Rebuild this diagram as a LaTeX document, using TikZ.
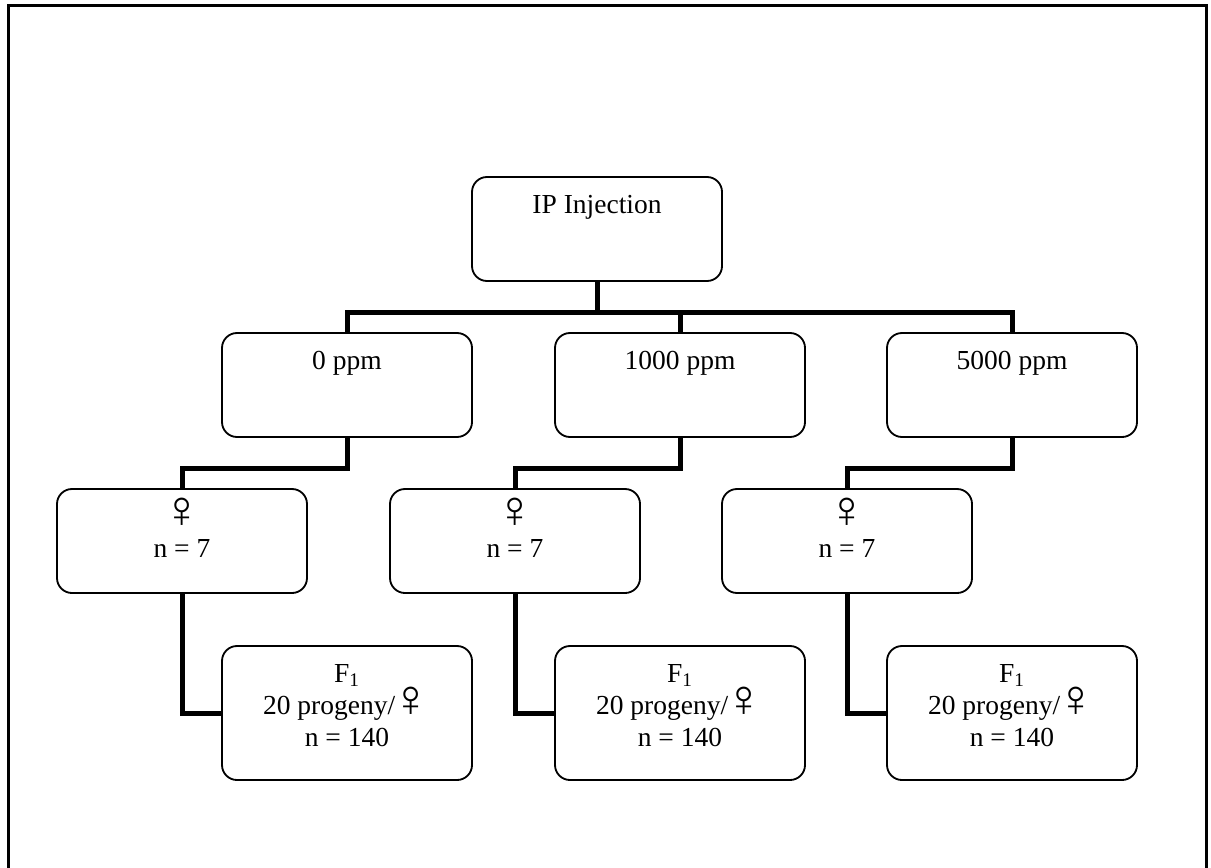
\documentclass[tikz,border=0pt]{standalone}
\usepackage{fontspec}
\setmainfont{Liberation Serif}
\newfontfamily\symfont{Liberation Serif}[Scale=1.9]
\usetikzlibrary{positioning}

% text set from the top of a fixed-size box
\newcommand{\toptext}[2]{\parbox[c][#1][t]{150pt}{\centering\rule{0pt}{22pt}#2}}
\newcommand{\fem}{\raisebox{-1pt}[0pt][0pt]{\symfont ♀}}

\begin{document}
\begin{tikzpicture}[
    x=0.6pt, y=-0.6pt,
    every node/.style={font=\fontsize{16.5}{19.2}\selectfont},
    block/.style={draw, rounded corners=9pt, inner sep=0pt, line width=1.1pt},
    link/.style={line width=3pt},
    frame/.style={line width=1.8pt}
]
    \useasboundingbox (0,0) rectangle (1211,867);
    \draw[frame] (8,870) -- (8,6) -- (1206,6) -- (1206,870);

    \node[block] (ip) at (597,229) {\toptext{62.4pt}{IP Injection}};

    \node[block] (dose0) at (347,385) {\toptext{62.4pt}{0 ppm}};
    \node[block] (dose1) at (680,385) {\toptext{62.4pt}{1000 ppm}};
    \node[block] (dose5) at (1012,385) {\toptext{62.4pt}{5000 ppm}};

    \node[block] (fem0) at (182,541) {\toptext{62.4pt}{\fem\\n = 7}};
    \node[block] (fem1) at (515,541) {\toptext{62.4pt}{\fem\\n = 7}};
    \node[block] (fem5) at (847,541) {\toptext{62.4pt}{\fem\\n = 7}};

    \node[block] (off0) at (347,713) {\toptext{80.4pt}{F\textsubscript{1}\\20 progeny/\kern-2pt\fem\\n = 140}};
    \node[block] (off1) at (680,713) {\toptext{80.4pt}{F\textsubscript{1}\\20 progeny/\kern-2pt\fem\\n = 140}};
    \node[block] (off5) at (1012,713) {\toptext{80.4pt}{F\textsubscript{1}\\20 progeny/\kern-2pt\fem\\n = 140}};

    \coordinate (bus) at (0,312);
    \coordinate (drop) at (0,468);

    \draw[link] (ip.south) -- (ip.south |- bus);
    \draw[link] (dose0.north) |- (dose5.north |- bus) -- (dose5.north);
    \draw[link] (dose1.north) -- (dose1.north |- bus);

    \draw[link] (dose0.south) |- (fem0.north |- drop) -- (fem0.north);
    \draw[link] (dose1.south) |- (fem1.north |- drop) -- (fem1.north);
    \draw[link] (dose5.south) |- (fem5.north |- drop) -- (fem5.north);

    \draw[link] (fem0.south) |- (off0.west);
    \draw[link] (fem1.south) |- (off1.west);
    \draw[link] (fem5.south) |- (off5.west);
\end{tikzpicture}
\end{document}
